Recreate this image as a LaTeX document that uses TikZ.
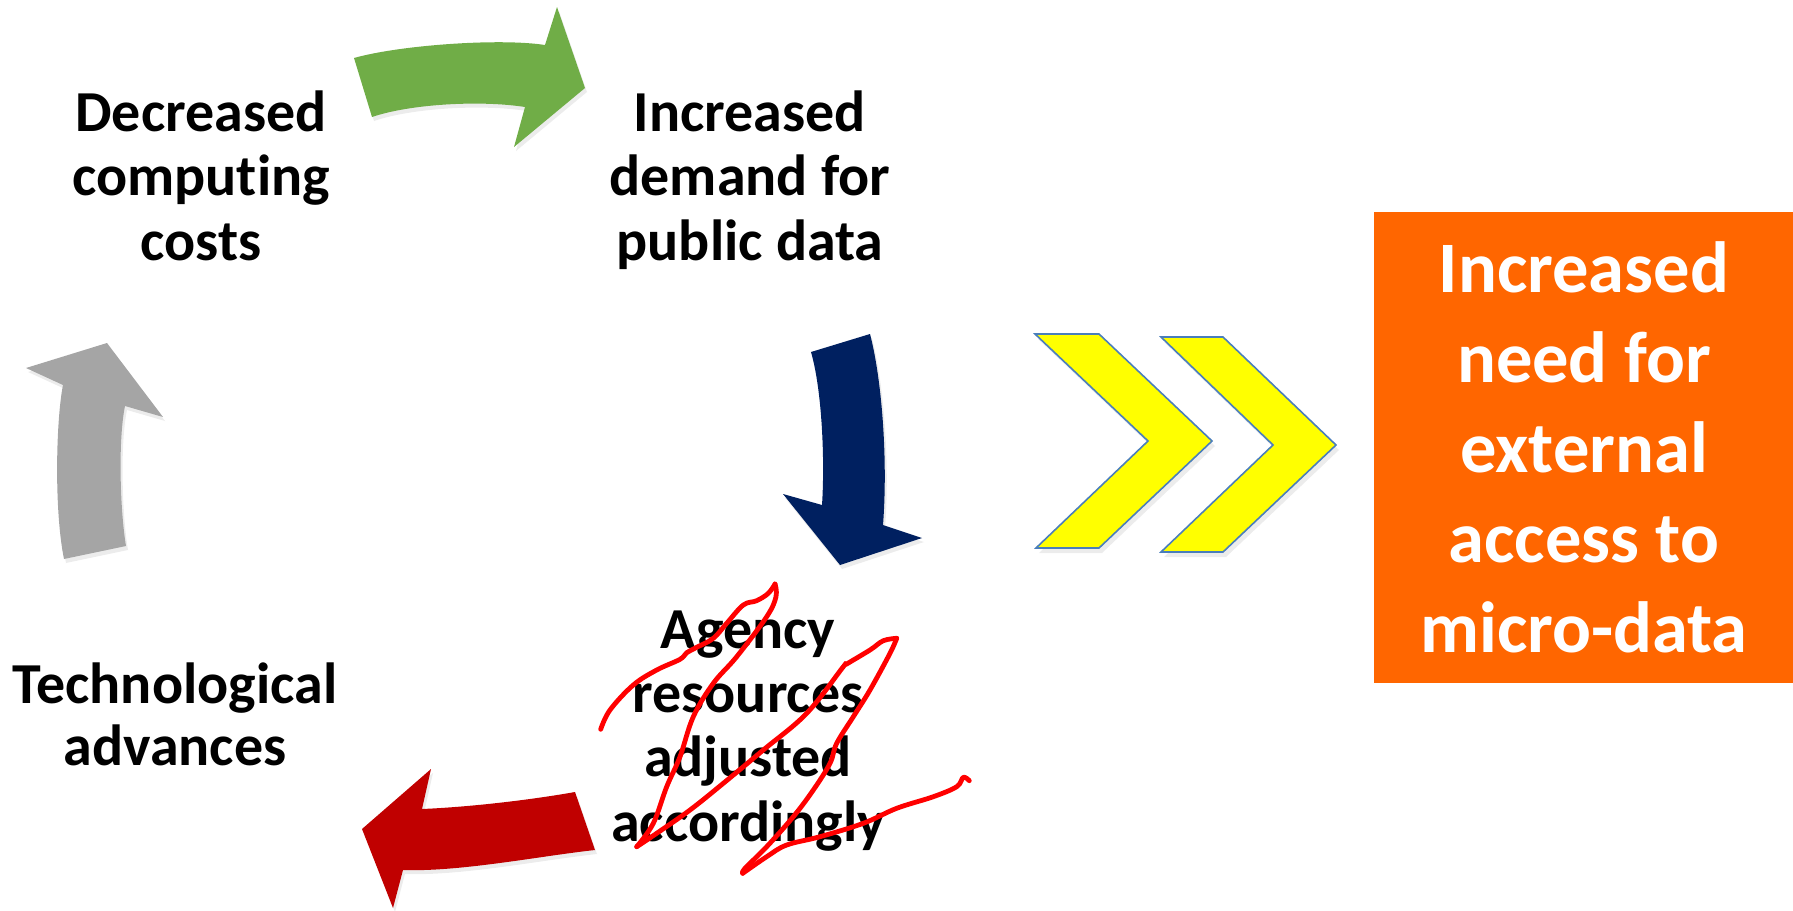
\documentclass[tikz,border=0pt]{standalone}
\usepackage{fontspec}
\setmainfont[Ligatures=NoCommon]{Carlito}
\usetikzlibrary{shadows}
\definecolor{arrgreen}{HTML}{70AD47}
\definecolor{arrnavy}{HTML}{002060}
\definecolor{arrgray}{HTML}{A5A5A5}
\definecolor{arrred}{HTML}{C00000}
\definecolor{chevfill}{HTML}{FFFF00}
\definecolor{chevline}{HTML}{4A7EBB}
\definecolor{boxorange}{HTML}{FF6600}
\definecolor{scribred}{HTML}{FF0000}
\newcommand\mylines[1]{\begin{tabular}[t]{@{}c@{}}#1\end{tabular}}
\begin{document}
\begin{tikzpicture}[x=0.5pt,y=-0.5pt,
  cyctext/.style={inner sep=0pt, anchor=base, text=black},
  bigarrow/.style={drop shadow={opacity=0.15, shadow xshift=1pt, shadow yshift=-2pt}},
  chevron/.style={fill=chevfill, draw=chevline, line width=0.8pt, line join=miter,
     drop shadow={opacity=0.15, shadow xshift=1.5pt, shadow yshift=-2.5pt}},
  scribble/.style={draw=scribred, line width=2.4pt, line cap=round, line join=round},
  boxtext/.style={inner sep=0pt, anchor=base, text=white}
]
\useasboundingbox (0,0) rectangle (1793,910);

% green arrow
\fill[arrgreen, bigarrow] (354,58) .. controls (400,45) and (500,38) .. (545,45)
  -- (557,7) -- (585,88) -- (514,147) -- (525,107)
  .. controls (480,100) and (410,104) .. (372,117) -- cycle;

% navy arrow
\fill[arrnavy, bigarrow] (811,352) -- (870,334) .. controls (882,380) and (888,460) .. (883,525)
  -- (922,538) -- (840,565) -- (783,494) -- (822,505)
  .. controls (825,460) and (822,390) .. (811,352) -- cycle;

% gray arrow
\fill[arrgray, bigarrow] (64,559) .. controls (54,510) and (56,420) .. (63,385)
  -- (26,368) -- (107,343) -- (163,417) -- (125,406)
  .. controls (118,440) and (120,510) .. (126,546) -- cycle;

% red arrow
\fill[arrred, bigarrow] (575,792) .. controls (530,800) and (470,807) .. (422,809)
  -- (431,769) -- (362,829) -- (393,908) -- (403,870)
  .. controls (460,872) and (540,856) .. (595,850) -- cycle;

% chevrons
\draw[chevron] (1035,334) -- (1099,334) -- (1212,441) -- (1099,548) -- (1036,548) -- (1148,441) -- cycle;
\draw[chevron] (1161,337) -- (1223,337) -- (1336,445) -- (1223,552) -- (1161,552) -- (1273,445) -- cycle;

% orange box
\node[fill=boxorange, inner sep=0pt, minimum width=209.5pt, minimum height=235.5pt] (outbox) at (1583.5,447.5) {};
\node[boxtext, font=\fontsize{36.25}{45}\selectfont\bfseries] (outtext) at (1584,292)
  {\mylines{Increased\\need for\\external\\access to\\micro-data}};

% cycle texts
\node[cyctext, font=\fontsize{29}{32.3}\selectfont\bfseries] (costs) at (201,131)
  {\mylines{Decreased\\computing\\costs}};
\node[cyctext, font=\fontsize{29}{32.3}\selectfont\bfseries] (demand) at (750,131)
  {\mylines{Increased\\demand for\\public data}};
\node[cyctext, font=\fontsize{29}{30.85}\selectfont\bfseries] (tech) at (175,703.3)
  {\mylines{Technological\\advances}};
\node[cyctext, font=\fontsize{29}{32.2}\selectfont\bfseries] (agency) at (748,648)
  {\mylines{Agency\\resources\\adjusted\\accordingly}};

% red scribble
\draw[scribble] plot[smooth, tension=0.6] coordinates {(600.7,729.3) (610,710) (633.3,685) (656.7,670) (680,659.3) (686.7,652.7) (696.7,647.3) (713.3,638.3) (726.7,623.3) (743.3,605) (756.7,600.7) (768.3,593.3) (775,584)};
\draw[scribble] plot[smooth, tension=0.6] coordinates {(775,584) (776,596.7) (766.7,616.7) (736.7,656.7) (713.3,683.3) (693.3,716.7) (680,756.7) (666.7,786.7) (653.3,823.3) (636.7,846.7)};
\draw[scribble] plot[smooth, tension=0.6] coordinates {(636.7,846.7) (656.7,833.3) (690,810) (723.3,783.3) (763.3,750) (806.7,713.3) (843.3,666.7) (846.7,664) (870,650) (883.3,640.7) (896.7,638.3)};
\draw[scribble] plot[smooth, tension=0.6] coordinates {(896.7,638.3) (890,653.3) (870,690) (853.3,716.7) (836.7,743.3) (830,763.3) (813.3,790) (793.3,816.7) (766.7,846.7) (745,868.3) (742.7,873.3)};
\draw[scribble] plot[smooth, tension=0.6] coordinates {(742.7,873.3) (766.7,856.7) (786.7,845) (820,836.7) (863.3,823.3) (896.7,808.3) (933.3,796.7) (956.7,786.7) (963.3,777.3) (969.3,780.7)};
\end{tikzpicture}
\end{document}
